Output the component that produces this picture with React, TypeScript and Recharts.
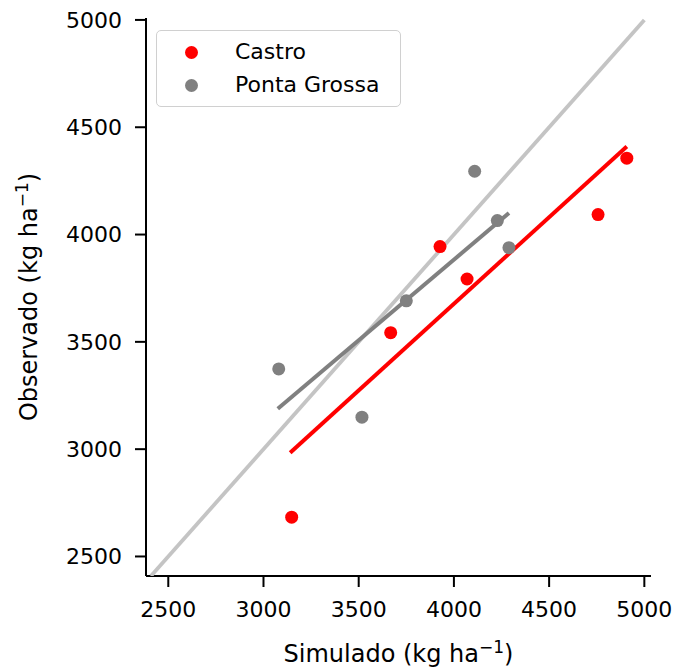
import React from "react";
import {
    ScatterChart,
    Scatter,
    XAxis,
    YAxis
} from "recharts";

// simulated vs observed yield (kg/ha)
const castroSim = [3148, 3668, 3927, 4069, 4757, 4908];
const castroObs = [2683, 3543, 3944, 3793, 4093, 4356];
const pontaSim = [3080, 3517, 3750, 4109, 4228, 4289];
const pontaObs = [3374, 3149, 3691, 4295, 4065, 3939];

// fitted lines, endpoints
const castroFitX = [3140, 4908];
const castroFitY = [2983, 4410];
const pontaFitX = [3075, 4289];
const pontaFitY = [3188, 4100];

// 1:1 line
const oneToOne = [2409, 5000];

const xTicks = [2500, 3000, 3500, 4000, 4500, 5000];
const yTicks = [2500, 3000, 3500, 4000, 4500, 5000];

const sites = ["Castro", "Ponta Grossa"];

const zip = (xs: number[], ys: number[]) => xs.map((x, i) => ({ x, y: ys[i] }));

const castroData = zip(castroSim, castroObs);
const pontaData = zip(pontaSim, pontaObs);
const castroFit = zip(castroFitX, castroFitY);
const pontaFit = zip(pontaFitX, pontaFitY);
const idLine = zip(oneToOne, oneToOne);

const FONT = "'DejaVu Sans', sans-serif";
const RED = "#ff0000";
const GRAY = "#808080";
const siteColors = [RED, GRAY];

const dot = (color: string) => (props: any) => (
    <circle cx={props.cx} cy={props.cy} r={6.5} fill={color} />
);
const noDot = () => <g />;

function XLabel({ viewBox }: any) {
    const cx = viewBox.x + viewBox.width / 2;
    return (
        <text x={cx} y={662} textAnchor="middle" fontFamily={FONT} fontSize={24} fill="#000">
            Simulado (kg ha
            <tspan fontSize={17} dy={-9}>−1</tspan>
            <tspan dy={9}>)</tspan>
        </text>
    );
}

function YLabel({ viewBox }: any) {
    const cy = viewBox.y + viewBox.height / 2;
    return (
        <text
            x={37}
            y={cy}
            transform={`rotate(-90, 37, ${cy})`}
            textAnchor="middle"
            fontFamily={FONT}
            fontSize={24}
            fill="#000"
        >
            Observado (kg ha
            <tspan fontSize={17} dy={-9}>−1</tspan>
            <tspan dy={9}>)</tspan>
        </text>
    );
}

function LegendBox() {
    return (
        <div
            style={{
                position: "absolute",
                left: 156,
                top: 30,
                width: 243,
                height: 75,
                border: "1.5px solid #d0d0d0",
                borderRadius: 5,
                background: "rgba(255,255,255,0.85)",
                fontFamily: FONT,
                fontSize: 22,
                color: "#000"
            }}
        >
            {sites.map((name, i) => (
                <div key={name} style={{ position: "absolute", left: 0, top: 5 + i * 33, height: 33, width: 240 }}>
                    <span
                        style={{
                            position: "absolute",
                            left: 28,
                            top: 10,
                            width: 13,
                            height: 13,
                            borderRadius: "50%",
                            background: siteColors[i]
                        }}
                    />
                    <span style={{ position: "absolute", left: 78, top: -1, whiteSpace: "nowrap", lineHeight: "33px" }}>
                        {name}
                    </span>
                </div>
            ))}
        </div>
    );
}

export default function App() {
    return (
        <div style={{ position: "absolute", left: 0, top: 0, width: 675, height: 670, background: "#fff" }}>
            <ScatterChart width={675} height={670} margin={{ top: 18, right: 24, left: 0, bottom: 0 }}>
                <XAxis
                    type="number"
                    dataKey="x"
                    domain={[2383, 5035]}
                    ticks={xTicks}
                    allowDataOverflow
                    height={94}
                    tickSize={11}
                    tickMargin={14}
                    stroke="#000"
                    strokeWidth={2}
                    tick={{ fill: "#000", fontSize: 22, fontFamily: FONT }}
                    label={<XLabel />}
                />
                <YAxis
                    type="number"
                    dataKey="y"
                    domain={[2409, 5009]}
                    ticks={yTicks}
                    allowDataOverflow
                    width={146}
                    tickSize={11}
                    tickMargin={13}
                    stroke="#000"
                    strokeWidth={2}
                    tick={{ fill: "#000", fontSize: 22, fontFamily: FONT }}
                    label={<YLabel />}
                />
                <Scatter
                    name="1:1"
                    data={idLine}
                    line={{ stroke: "#c4c4c4", strokeWidth: 3.8 }}
                    shape={noDot}
                    legendType="none"
                    isAnimationActive={false}
                />
                <Scatter
                    name="Castro"
                    data={castroData}
                    fill={RED}
                    shape={dot(RED)}
                    isAnimationActive={false}
                />
                <Scatter
                    name="Castro fit"
                    data={castroFit}
                    line={{ stroke: RED, strokeWidth: 4 }}
                    shape={noDot}
                    legendType="none"
                    isAnimationActive={false}
                />
                <Scatter
                    name="Ponta Grossa"
                    data={pontaData}
                    fill={GRAY}
                    shape={dot(GRAY)}
                    isAnimationActive={false}
                />
                <Scatter
                    name="Ponta Grossa fit"
                    data={pontaFit}
                    line={{ stroke: GRAY, strokeWidth: 4 }}
                    shape={noDot}
                    legendType="none"
                    isAnimationActive={false}
                />
            </ScatterChart>
            <LegendBox />
        </div>
    );
}
